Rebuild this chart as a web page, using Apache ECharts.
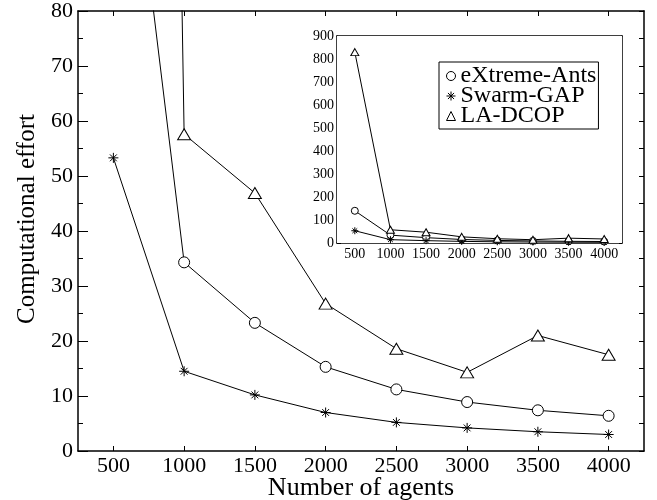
<!DOCTYPE html>
<html>
<head>
<meta charset="utf-8">
<script src="https://cdn.jsdelivr.net/npm/echarts@6/dist/echarts.min.js"></script>
<style>
html,body{margin:0;padding:0;background:#fff;}
#chart{width:657px;height:500px;}
</style>
</head>
<body>
<div id="chart"></div>
<script>
// ---- data ----
const agents = [500, 1000, 1500, 2000, 2500, 3000, 3500, 4000];
const extremeAnts = [140, 34.3, 23.3, 15.3, 11.2, 8.9, 7.4, 6.4];
const swarmGap = [53.3, 14.5, 10.2, 7.0, 5.2, 4.2, 3.5, 3.0];
const laDcop = [830, 57.6, 46.9, 26.8, 18.6, 14.3, 21.0, 17.5];
const seriesNames = ['eXtreme-Ants', 'Swarm-GAP', 'LA-DCOP'];
const xTicks = [500, 1000, 1500, 2000, 2500, 3000, 3500, 4000];

const FONT = '"Liberation Serif", "DejaVu Serif", serif';
const STAR = 'path://M5,0L5,10M0,5L10,5M1.6,1.6L8.4,8.4M1.6,8.4L8.4,1.6';

function pairs(vals) { return agents.map((x, i) => [x, vals[i]]); }
const plain = v => String(v);

const symbols = ['circle', STAR, 'triangle'];
const valuesList = [extremeAnts, swarmGap, laDcop];
const mainSizes = [11, 10, [13, 11]];
const insetSizes = [7, 7, [8, 7]];

const series = [];
valuesList.forEach((vals, k) => {
  series.push({
    name: seriesNames[k], type: 'line', xAxisIndex: 0, yAxisIndex: 0,
    data: pairs(vals), symbol: symbols[k], symbolSize: mainSizes[k],
    showAllSymbol: true, clip: true, z: 3,
    lineStyle: {color: '#000', width: 1},
    itemStyle: {color: '#fff', borderColor: '#000', borderWidth: 1},
    emphasis: {disabled: true}, animation: false
  });
});
valuesList.forEach((vals, k) => {
  series.push({
    name: seriesNames[k], type: 'line', xAxisIndex: 2, yAxisIndex: 2,
    data: pairs(vals), symbol: symbols[k], symbolSize: insetSizes[k],
    showAllSymbol: true, clip: true, z: 5,
    lineStyle: {color: '#000', width: 1},
    itemStyle: {color: '#fff', borderColor: '#000', borderWidth: 1},
    emphasis: {disabled: true}, animation: false
  });
});

const axisLine = {show: true, onZero: false, lineStyle: {color: '#000', width: 1.5}};

const chart = echarts.init(document.getElementById('chart'), null, {renderer: 'canvas'});
chart.setOption({
  animation: false,
  backgroundColor: '#fff',
  textStyle: {fontFamily: FONT, color: '#000'},
  grid: [
    {left: 78, top: 11, right: 13, bottom: 49, containLabel: false, outerBoundsMode: 'none'},
    {left: 337, top: 36, right: 35, bottom: 257, containLabel: false, outerBoundsMode: 'none',
     show: true, backgroundColor: '#fff', borderWidth: 0, z: 4}
  ],
  legend: {
    left: 439, top: 62, orient: 'vertical', itemGap: -4,
    itemWidth: 9, itemHeight: 9,
    borderColor: '#000', borderWidth: 1, padding: [2, 2, 1, 7],
    backgroundColor: '#fff', z: 10,
    selectedMode: false,
    textStyle: {fontFamily: FONT, fontSize: 24, color: '#000'},
    itemStyle: {color: '#fff', borderColor: '#000', borderWidth: 1},
    data: seriesNames.map((n, k) => ({name: n, icon: symbols[k]}))
  },
  xAxis: [
    {type: 'value', gridIndex: 0, position: 'bottom', min: 250, max: 4250,
     name: 'Number of agents', nameLocation: 'middle', nameGap: 24, nameMoveOverlap: false,
     nameTextStyle: {fontFamily: FONT, fontSize: 26, color: '#000'},
     axisLine: axisLine, splitLine: {show: false},
     axisTick: {show: true, inside: true, length: 5, customValues: xTicks, lineStyle: {color: '#000', width: 1}},
     axisLabel: {show: true, customValues: xTicks, formatter: plain, margin: 4, fontFamily: FONT, fontSize: 22, color: '#000'}},
    {type: 'value', gridIndex: 0, position: 'top', min: 250, max: 4250,
     axisLine: axisLine, splitLine: {show: false},
     axisTick: {show: true, inside: true, length: 5, customValues: xTicks, lineStyle: {color: '#000', width: 1}},
     axisLabel: {show: false}},
    {type: 'value', gridIndex: 1, position: 'bottom', min: 250, max: 4250,
     axisLine: axisLine, splitLine: {show: false},
     axisTick: {show: true, inside: true, length: 3, customValues: xTicks, lineStyle: {color: '#000', width: 1}},
     axisLabel: {show: true, customValues: xTicks, formatter: plain, margin: 4, fontFamily: FONT, fontSize: 14, color: '#000'}},
    {type: 'value', gridIndex: 1, position: 'top', min: 250, max: 4250,
     axisLine: axisLine, splitLine: {show: false},
     axisTick: {show: true, inside: true, length: 3, customValues: xTicks, lineStyle: {color: '#000', width: 1}},
     axisLabel: {show: false}}
  ],
  yAxis: [
    {type: 'value', gridIndex: 0, position: 'left', min: 0, max: 80, interval: 10,
     name: 'Computational effort', nameLocation: 'middle', nameGap: 38, nameMoveOverlap: false,
     nameTextStyle: {fontFamily: FONT, fontSize: 25, color: '#000', padding: [0, 0, 0, 24]},
     axisLine: axisLine, splitLine: {show: false},
     axisTick: {show: true, inside: true, length: 10, lineStyle: {color: '#000', width: 1}},
     minorTick: {show: true, splitNumber: 2, length: 5, lineStyle: {color: '#000', width: 1}},
     minorSplitLine: {show: false},
     axisLabel: {margin: 5, fontFamily: FONT, fontSize: 22, color: '#000'}},
    {type: 'value', gridIndex: 0, position: 'right', min: 0, max: 80, interval: 5,
     axisLine: axisLine, splitLine: {show: false},
     axisTick: {show: true, inside: true, length: 5, lineStyle: {color: '#000', width: 1}},
     axisLabel: {show: false}},
    {type: 'value', gridIndex: 1, position: 'left', min: 0, max: 900, interval: 100,
     axisLine: axisLine, splitLine: {show: false},
     axisTick: {show: true, inside: true, length: 4, lineStyle: {color: '#000', width: 1}},
     minorTick: {show: true, splitNumber: 2, length: 3, lineStyle: {color: '#000', width: 1}},
     minorSplitLine: {show: false},
     axisLabel: {margin: 3, fontFamily: FONT, fontSize: 14, color: '#000'}},
    {type: 'value', gridIndex: 1, position: 'right', min: 0, max: 900, interval: 50,
     axisLine: axisLine, splitLine: {show: false},
     axisTick: {show: true, inside: true, length: 3, lineStyle: {color: '#000', width: 1}},
     axisLabel: {show: false}}
  ],
  series: series
});
</script>
</body>
</html>
